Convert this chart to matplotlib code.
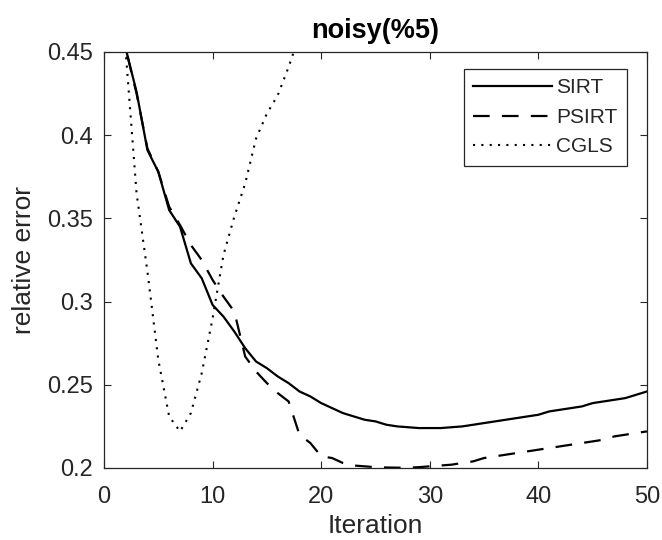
import matplotlib
matplotlib.use("Agg")
import matplotlib.pyplot as plt

iterations = list(range(1, 51))
sirt = [0.490, 0.452, 0.426, 0.391, 0.378, 0.355, 0.345, 0.323, 0.314, 0.298,
        0.291, 0.282, 0.272, 0.264, 0.260, 0.255, 0.251, 0.246, 0.243, 0.239,
        0.236, 0.233, 0.231, 0.229, 0.228, 0.226, 0.225, 0.2245, 0.224, 0.224,
        0.224, 0.2245, 0.225, 0.226, 0.227, 0.228, 0.229, 0.230, 0.231, 0.232,
        0.234, 0.235, 0.236, 0.237, 0.239, 0.240, 0.241, 0.242, 0.244, 0.246]
psirt = [0.490, 0.452, 0.425, 0.392, 0.378, 0.357, 0.346, 0.334, 0.325, 0.313,
         0.303, 0.294, 0.267, 0.258, 0.251, 0.245, 0.240, 0.220, 0.215, 0.207,
         0.206, 0.203, 0.2015, 0.201, 0.2005, 0.2003, 0.2002, 0.2002, 0.2005, 0.201,
         0.2015, 0.202, 0.203, 0.204, 0.206, 0.207, 0.208, 0.209, 0.210, 0.211,
         0.212, 0.213, 0.214, 0.215, 0.216, 0.217, 0.219, 0.220, 0.221, 0.222]
cgls_iter = list(range(1, 21))
cgls = [0.600, 0.450, 0.365, 0.318, 0.265, 0.231, 0.222, 0.233, 0.257, 0.290,
        0.328, 0.351, 0.371, 0.398, 0.413, 0.424, 0.441, 0.460, 0.490, 0.520]

title = "noisy(%5)"
xlabel = "Iteration"
ylabel = "relative error"
xticks = [0, 10, 20, 30, 40, 50]
yticks = [0.2, 0.25, 0.3, 0.35, 0.4, 0.45]
ytick_labels = ["0.2", "0.25", "0.3", "0.35", "0.4", "0.45"]

plt.rcParams['font.family'] = ['Liberation Sans', 'DejaVu Sans']
gray = (0.15, 0.15, 0.15)

fig = plt.figure(figsize=(6.62, 5.40), dpi=100)
ax = fig.add_axes([104/662, 1 - 468/540, (647-104)/662, (468-52)/540])

ax.plot(iterations, sirt, color='black', lw=1.6, ls='-', label='SIRT')
ax.plot(iterations, psirt, color='black', lw=1.6, ls=(0, (7.5, 5.5)), label='PSIRT')
ax.plot(cgls_iter, cgls, color='black', lw=1.5, ls=(0, (1, 3)), label='CGLS')

ax.set_xlim(0, 50)
ax.set_ylim(0.2, 0.45)
ax.set_xticks(xticks)
ax.set_yticks(yticks)
ax.set_yticklabels(ytick_labels)
ax.tick_params(direction='in', top=True, right=True, length=5, width=0.8,
               colors=gray, labelsize=17, labelcolor=gray)
ax.tick_params(axis='x', pad=13)
ax.tick_params(axis='y', pad=8)
for sp in ax.spines.values():
    sp.set_color(gray)
    sp.set_linewidth(0.9)

ax.set_title(title, fontsize=19.5, fontweight='bold', color='black', pad=10)
ax.set_xlabel(xlabel, fontsize=19, color=gray, labelpad=4)
ax.set_ylabel(ylabel, fontsize=19, color=gray, labelpad=8)

leg = ax.legend(loc='upper right', bbox_to_anchor=((627-104)/543, 1 - 17/416),
                fontsize=15, handlelength=3.8, handletextpad=0.2,
                borderaxespad=0, fancybox=False, framealpha=1,
                edgecolor=gray, labelspacing=0.5, borderpad=0.45)
leg.get_frame().set_linewidth(0.9)
for t in leg.get_texts():
    t.set_color(gray)

fig.savefig('out.png', dpi=100)
